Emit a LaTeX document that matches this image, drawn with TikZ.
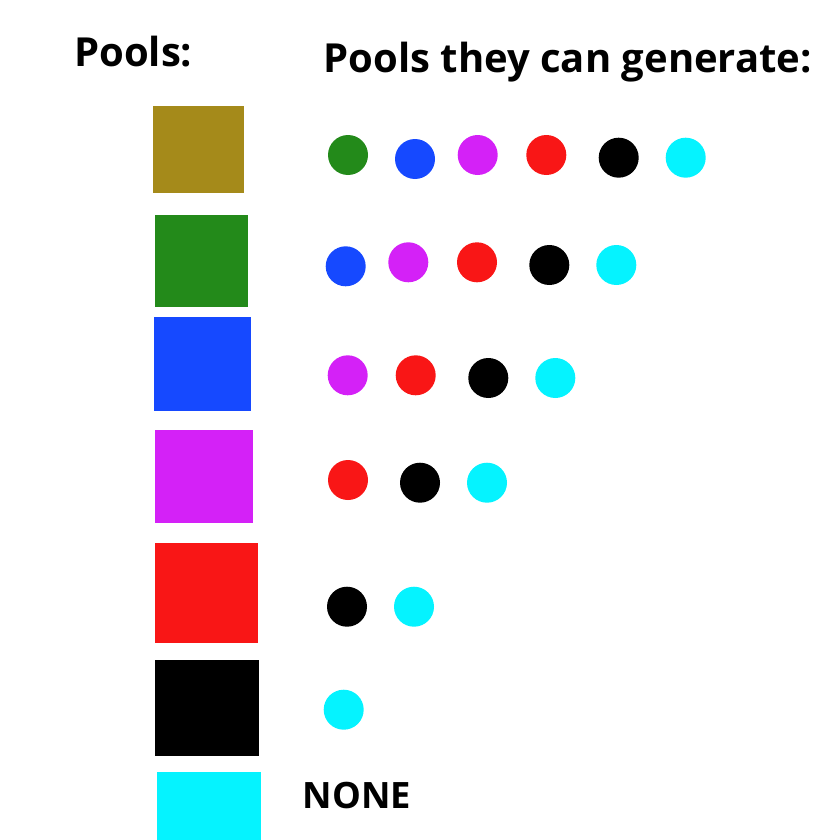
\documentclass[tikz,border=0pt]{standalone}
\usepackage{fontspec}
\setmainfont{Open Sans}
\definecolor{cOlive}{RGB}{165,138,26}
\definecolor{cGreen}{RGB}{35,138,26}
\definecolor{cBlue}{RGB}{22,73,255}
\definecolor{cPurple}{RGB}{212,33,247}
\definecolor{cRed}{RGB}{249,22,22}
\definecolor{cBlack}{RGB}{0,0,0}
\definecolor{cCyan}{RGB}{5,243,255}
\begin{document}
\begin{tikzpicture}[x=1pt,y=-1pt,
  dot/.style={circle,inner sep=0pt,minimum size=40pt,draw=none},
  hdr/.style={anchor=base west,inner sep=0pt,font=\fontsize{40}{48}\selectfont\bfseries},
  sq/.style={draw=none}]
\useasboundingbox (0,0) rectangle (840,840);
\fill[white] (0,0) rectangle (840,840);
% headers
\node[hdr] (h1) at (74,66.7) {Pools:};
\node[hdr] (h2) at (323.5,73) {Pools they can generate:};
% squares
\fill[cOlive]  (152.7,106)   rectangle (244.3,193);
\fill[cGreen]  (154.7,215.3) rectangle (248,306.7);
\fill[cBlue]   (154.3,316.7) rectangle (250.7,410.7);
\fill[cPurple] (154.7,430.3) rectangle (253.3,522.7);
\fill[cRed]    (155.3,543.3) rectangle (258,642.7);
\fill[cBlack]  (155.3,660)   rectangle (259,756);
\fill[cCyan]   (157,772)     rectangle (260.7,840);
% row 1
\node[dot,fill=cGreen]  (r1a) at (348,155) {};
\node[dot,fill=cBlue]   (r1b) at (415,159) {};
\node[dot,fill=cPurple] (r1c) at (477.7,155) {};
\node[dot,fill=cRed]    (r1d) at (546.3,155) {};
\node[dot,fill=cBlack]  (r1e) at (618.7,157.7) {};
\node[dot,fill=cCyan]   (r1f) at (685.7,157.7) {};
% row 2
\node[dot,fill=cBlue]   (r2a) at (345.7,266.3) {};
\node[dot,fill=cPurple] (r2b) at (408.3,262.3) {};
\node[dot,fill=cRed]    (r2c) at (477,262.3) {};
\node[dot,fill=cBlack]  (r2d) at (549.3,265) {};
\node[dot,fill=cCyan]   (r2e) at (616.3,265) {};
% row 3
\node[dot,fill=cPurple] (r3a) at (347.7,375.3) {};
\node[dot,fill=cRed]    (r3b) at (415.7,375.3) {};
\node[dot,fill=cBlack]  (r3c) at (488.3,378) {};
\node[dot,fill=cCyan]   (r3d) at (555.3,378) {};
% row 4
\node[dot,fill=cRed]    (r4a) at (348,480) {};
\node[dot,fill=cBlack]  (r4b) at (420,482.7) {};
\node[dot,fill=cCyan]   (r4c) at (487,482.7) {};
% row 5
\node[dot,fill=cBlack]  (r5a) at (347,606.7) {};
\node[dot,fill=cCyan]   (r5b) at (414,606.7) {};
% row 6
\node[dot,fill=cCyan]   (r6a) at (343.7,709.7) {};
% none
\node[hdr,font=\fontsize{36.3}{43}\selectfont\bfseries] (none) at (302.5,808.3) {NONE};
\end{tikzpicture}
\end{document}
